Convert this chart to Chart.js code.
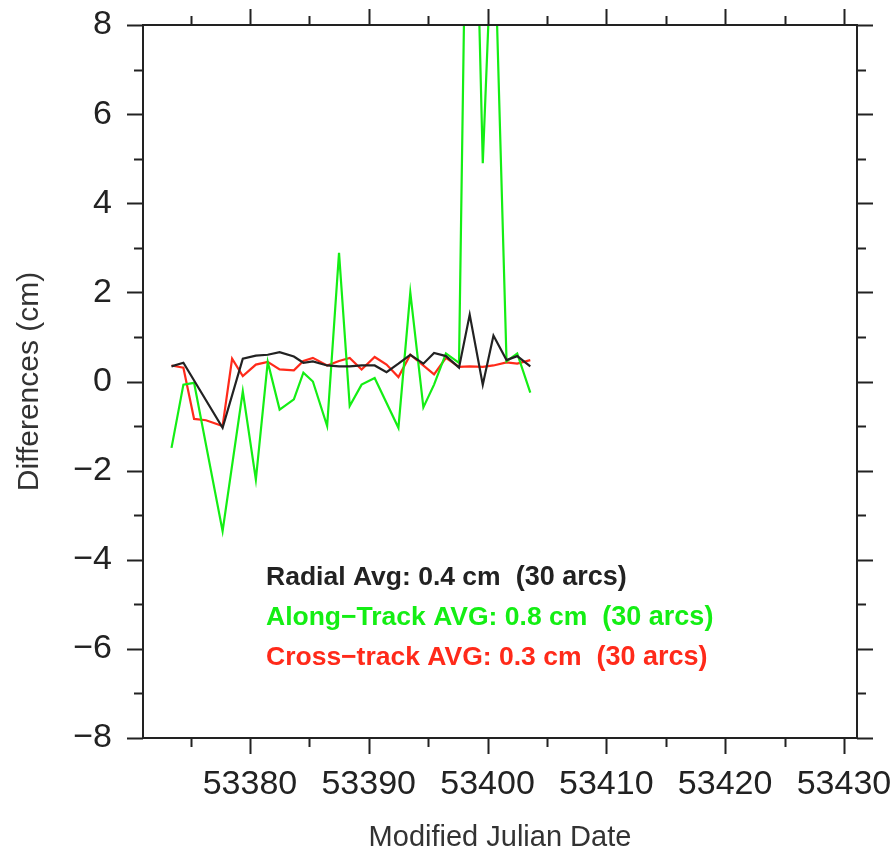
<!DOCTYPE html>
<html>
<head>
<meta charset="utf-8">
<script src="https://cdn.jsdelivr.net/npm/chart.js@4/dist/chart.umd.min.js"></script>
<style>
  html, body { margin: 0; padding: 0; background: #fff; }
  #wrap { width: 894px; height: 853px; }
</style>
</head>
<body>
<div id="wrap"><canvas id="c" width="894" height="853"></canvas></div>
<script>
// Modified Julian Date of each arc
const dates = [53373.4, 53374.4, 53375.3, 53376.3, 53377.7, 53378.5, 53379.4, 53380.5, 53381.5, 53382.5,
               53383.7, 53384.5, 53385.3, 53386.5, 53387.5, 53388.4, 53389.4, 53390.5, 53391.5, 53392.5,
               53393.5, 53394.6, 53395.5, 53396.5, 53397.6, 53398.5, 53399.6, 53400.5, 53401.6, 53402.5, 53403.6];
// Differences (cm)
const radial = [0.34, 0.42, null, null, -1.04, null, 0.51, 0.58, 0.60, 0.66,
                0.56, 0.42, 0.45, 0.36, 0.34, 0.34, 0.36, 0.36, 0.21, 0.40,
                0.60, 0.40, 0.64, 0.57, 0.31, 1.50, -0.07, 1.03, 0.48, 0.57, 0.34];
const alongTrack = [-1.49, -0.07, -0.03, null, -3.36, null, -0.22, -2.20, 0.44, -0.63,
                    -0.40, 0.20, 0.00, -1.00, 2.89, -0.55, -0.07, 0.08, null, -1.04,
                    2.00, -0.58, -0.07, 0.63, 0.42, 16.9, 4.90, 10.9, 0.45, 0.63, -0.25];
const crossTrack = [0.36, 0.31, -0.84, -0.87, -1.00, 0.51, 0.12, 0.38, 0.44, 0.27,
                    0.25, 0.46, 0.53, 0.36, 0.46, 0.53, 0.27, 0.55, 0.38, 0.10,
                    0.60, null, 0.16, 0.53, 0.33, 0.34, 0.33, 0.36, 0.43, 0.40, 0.48];

const xMajorTicks = [53380, 53390, 53400, 53410, 53420, 53430];
const xMinorTicks = [53375, 53385, 53395, 53405, 53415, 53425];
const yMajorTicks = [-8, -6, -4, -2, 0, 2, 4, 6, 8];
const yMinorTicks = [-7, -5, -3, -1, 1, 3, 5, 7];

const xTitle = 'Modified Julian Date';
const yTitle = 'Differences (cm)';
const notes = [
  { main: 'Radial Avg: 0.4 cm', tail: '(30 arcs)', color: '#222222' },
  { main: 'Along\u2212Track AVG: 0.8 cm', tail: '(30 arcs)', color: '#14ee14' },
  { main: 'Cross\u2212track AVG: 0.3 cm', tail: '(30 arcs)', color: '#ff2a1a' }
];

const FONT = '"Liberation Sans", Arial, Helvetica, sans-serif';
const AXIS = '#222222';

function pts(arr) { return dates.map((d, i) => ({ x: d, y: arr[i] })); }

function noOverflow(s) {
  s.paddingTop = 0; s.paddingBottom = 0; s.paddingLeft = 0; s.paddingRight = 0;
}

const decor = {
  id: 'decor',
  afterDraw(chart) {
    const ctx = chart.ctx;
    const a = chart.chartArea;
    const xs = chart.scales.x, ys = chart.scales.y;
    ctx.save();
    ctx.strokeStyle = AXIS;
    ctx.lineWidth = 2;
    ctx.strokeRect(a.left, a.top, a.right - a.left, a.bottom - a.top);
    const MAJ = 16, MIN = 9;
    ctx.beginPath();
    const xt = (v, len) => {
      const p = Math.round(xs.getPixelForValue(v)) + 0.5;
      ctx.moveTo(p, a.bottom); ctx.lineTo(p, a.bottom + len);
      ctx.moveTo(p, a.top); ctx.lineTo(p, a.top - len);
    };
    const yt = (v, len) => {
      const p = Math.round(ys.getPixelForValue(v)) + 0.5;
      ctx.moveTo(a.left, p); ctx.lineTo(a.left - len, p);
      ctx.moveTo(a.right, p); ctx.lineTo(a.right + len, p);
    };
    xMajorTicks.forEach(v => xt(v, MAJ));
    xMinorTicks.forEach(v => xt(v, MIN));
    yMajorTicks.forEach(v => yt(v, MAJ));
    yMinorTicks.forEach(v => yt(v, MIN));
    ctx.stroke();

    // axis titles
    ctx.fillStyle = '#333333';
    ctx.font = '29px ' + FONT;
    ctx.textAlign = 'center';
    ctx.textBaseline = 'middle';
    ctx.fillText(xTitle, (a.left + a.right) / 2, 838);
    ctx.save();
    ctx.translate(30, (a.top + a.bottom) / 2);
    ctx.rotate(-Math.PI / 2);
    ctx.font = '30px ' + FONT;
    ctx.fillText(yTitle, 0, 0);
    ctx.restore();

    // annotation block
    ctx.textAlign = 'left';
    ctx.textBaseline = 'alphabetic';
    const baselines = [585, 625, 665];
    notes.forEach((n, i) => {
      ctx.fillStyle = n.color;
      ctx.font = 'bold 26.5px ' + FONT;
      ctx.fillText(n.main, 266, baselines[i]);
      const w = ctx.measureText(n.main).width;
      ctx.font = 'bold 27px ' + FONT;
      ctx.fillText(n.tail, 266 + w + 15, baselines[i]);
    });
    ctx.restore();
  }
};

new Chart(document.getElementById('c'), {
  type: 'line',
  data: {
    datasets: [
      { label: 'Radial', data: pts(radial), borderColor: '#222222' },
      { label: 'Along-Track', data: pts(alongTrack), borderColor: '#14ee14' },
      { label: 'Cross-track', data: pts(crossTrack), borderColor: '#ff2a1a' }
    ].map(d => Object.assign(d, { borderWidth: 2.2, pointRadius: 0, tension: 0, spanGaps: true, fill: false }))
  },
  options: {
    responsive: false,
    animation: false,
    events: [],
    layout: { padding: { top: 25, right: 37, left: 0, bottom: 0 } },
    plugins: { legend: { display: false }, tooltip: { enabled: false } },
    scales: {
      x: {
        type: 'linear', min: 53371, max: 53431.1,
        grid: { display: false, drawTicks: false },
        border: { display: false },
        afterBuildTicks: s => { s.ticks = xMajorTicks.map(v => ({ value: v })); },
        afterFit: s => { s.height = 115; noOverflow(s); },
        ticks: { color: '#222222', font: { family: FONT, size: 34 }, padding: 26, maxRotation: 0, autoSkip: false,
                 callback: v => String(v) }
      },
      y: {
        type: 'linear', min: -8, max: 8,
        grid: { display: false, drawTicks: false },
        border: { display: false },
        afterBuildTicks: s => { s.ticks = yMajorTicks.map(v => ({ value: v })); },
        afterFit: s => { s.width = 143; noOverflow(s); },
        ticks: { color: '#222222', font: { family: FONT, size: 34 }, padding: 31,
                 callback: v => (v < 0 ? '\u2212' + Math.abs(v) : String(v)) }
      }
    }
  },
  plugins: [decor]
});
</script>
</body>
</html>
